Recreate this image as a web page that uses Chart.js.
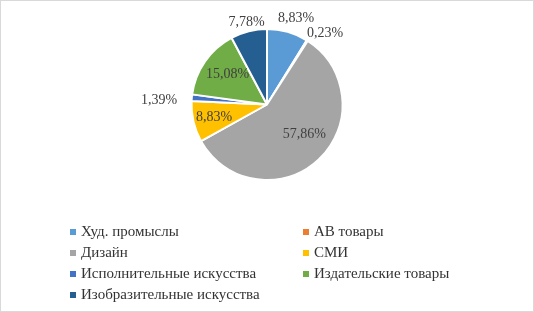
<!DOCTYPE html>
<html><head><meta charset="utf-8">
<script src="https://cdn.jsdelivr.net/npm/chart.js@4"></script>
<style>
html,body{margin:0;padding:0;background:#fff;}
#wrap{position:relative;width:532px;height:310px;border:1px solid #d9d9d9;}
</style></head>
<body><div id="wrap"><canvas id="c" width="532" height="310"></canvas></div>
<script>
const categories = ["Худ. промыслы","АВ товары","Дизайн","СМИ","Исполнительные искусства","Издательские товары","Изобразительные искусства"];
const values = [8.83, 0.23, 57.86, 8.83, 1.39, 15.08, 7.78];
const valueLabels = ["8,83%","0,23%","57,86%","8,83%","1,39%","15,08%","7,78%"];
const colors = ["#5B9BD5","#ED7D31","#A5A5A5","#FFC000","#4472C4","#70AD47","#255E91"];

const labelRadius = [1.2, 1.22, 0.63, 0.72, 1.43, 0.66, 1.12];
const labelAngleShift = [0.05, 0.12, -0.15, 0, -0.055, 0.05, 0];

const labelPlugin = {
  id: 'lbl',
  afterDatasetsDraw(chart) {
    const ctx = chart.ctx;
    const meta = chart.getDatasetMeta(0);
    ctx.save();
    ctx.font = '14px "Liberation Serif", "Times New Roman", serif';
    ctx.fillStyle = '#404040';
    ctx.textAlign = 'center';
    ctx.textBaseline = 'middle';
    meta.data.forEach((arc, i) => {
      const p = arc.getProps(['x','y','startAngle','endAngle','outerRadius'], true);
      const a = (p.startAngle + p.endAngle) / 2 + labelAngleShift[i];
      const r = p.outerRadius * labelRadius[i];
      ctx.fillText(valueLabels[i], p.x + Math.cos(a) * r, p.y + Math.sin(a) * r);
    });
    ctx.restore();
  }
};

const legendPlugin = {
  id: 'leg',
  afterDraw(chart) {
    const ctx = chart.ctx;
    ctx.save();
    ctx.font = '15px "Liberation Serif", "Times New Roman", serif';
    ctx.textBaseline = 'middle';
    const colX = [69, 302];
    const y0 = 231, dy = 21;
    categories.forEach((c, i) => {
      const col = i % 2, row = Math.floor(i / 2);
      const x = colX[col], y = y0 + row * dy;
      ctx.fillStyle = colors[i];
      ctx.fillRect(x, y - 3, 6, 6);
      ctx.fillStyle = '#333333';
      ctx.fillText(c, x + 11, y);
    });
    ctx.restore();
  }
};

new Chart(document.getElementById('c'), {
  type: 'pie',
  data: { labels: categories, datasets: [{ data: values, backgroundColor: colors, borderColor: '#fff', borderWidth: 2 }] },
  options: {
    responsive: false, animation: false,
    layout: { padding: { top: 27, bottom: 130, left: 0, right: 0 } },
    plugins: { legend: { display: false }, tooltip: { enabled: false } }
  },
  plugins: [labelPlugin, legendPlugin]
});
</script></body></html>
